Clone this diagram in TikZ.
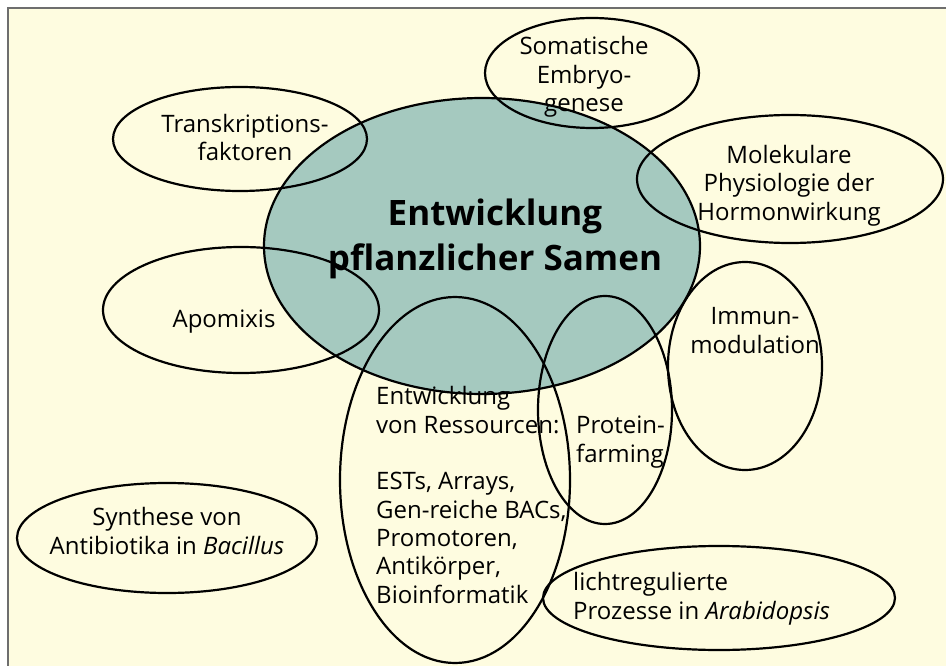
\documentclass[tikz,border=0pt]{standalone}
\usepackage{fontspec}
\setmainfont{Open Sans}
\definecolor{bgyellow}{HTML}{FEFCE0}
\definecolor{teal}{HTML}{A5C9BF}
\definecolor{framegray}{HTML}{6E6E6E}
\tikzset{
  oval/.style={draw=black, line width=2.2pt},
  lbl/.style={inner sep=0pt, anchor=base, font=\fontsize{24}{28.5}\selectfont, text=black},
  title/.style={inner sep=0pt, anchor=base, font=\fontsize{35}{45}\selectfont\bfseries, align=center}
}
\begin{document}
\begin{tikzpicture}[x=1pt,y=-1pt]
\useasboundingbox (0,0) rectangle (946,666);
\fill[white] (0,0) rectangle (946,666);
\fill[bgyellow] (8,8) rectangle (946,666);
\draw[framegray, line width=1.4pt] (8,666) -- (8,8) -- (946,8);
% central
\fill[teal] (482,246) ellipse (218pt and 148pt);
\draw[oval] (482,246) ellipse (218pt and 148pt);
% satellites
\draw[oval] (592,73) ellipse (107pt and 55pt);
\draw[oval] (240,139) ellipse (127pt and 52pt);
\draw[oval] (790,179) ellipse (153pt and 64pt);
\draw[oval] (241,310) ellipse (138pt and 63pt);
\draw[oval] (745,366) ellipse (77pt and 104pt);
\draw[oval] (455,480) ellipse (115pt and 183pt);
\draw[oval] (605,410) ellipse (67pt and 114pt);
\draw[oval] (167,538) ellipse (150pt and 55pt);
\draw[oval] (719,598) ellipse (176pt and 52pt);
% texts (anchor = baseline of last line)
\node[title] (t0) at (495,270) {Entwicklung\\pflanzlicher Samen};
\node[lbl, align=center] (t1) at (584,112) {Somatische\\Embryo-\\genese};
\node[lbl, align=center] (t2) at (245,161) {Transkriptions-\\faktoren};
\node[lbl, align=center, font=\fontsize{24}{29}\selectfont] (t3) at (789,221) {Molekulare\\Physiologie der\\Hormonwirkung};
\node[lbl] (t4) at (224,327) {Apomixis};
\node[lbl, align=center] (t5) at (755,353) {Immun-\\modulation};
\node[lbl, align=left, anchor=base west, font=\fontsize{24}{28.3}\selectfont] (t6) at (376,603) {Entwicklung\\von Ressourcen:\\[28.3pt]ESTs, Arrays,\\Gen-reiche BACs,\\Promotoren,\\Antikörper,\\Bioinformatik};
\node[lbl, align=left, anchor=base west] (t7) at (576,462) {Protein-\\farming};
\node[lbl, align=center] (t8) at (167,554) {Synthese von\\Antibiotika in \textit{Bacillus}};
\node[lbl, align=left, anchor=base west] (t9) at (573,619) {lichtregulierte\\Prozesse in \textit{Arabidopsis}};
\end{tikzpicture}
\end{document}
